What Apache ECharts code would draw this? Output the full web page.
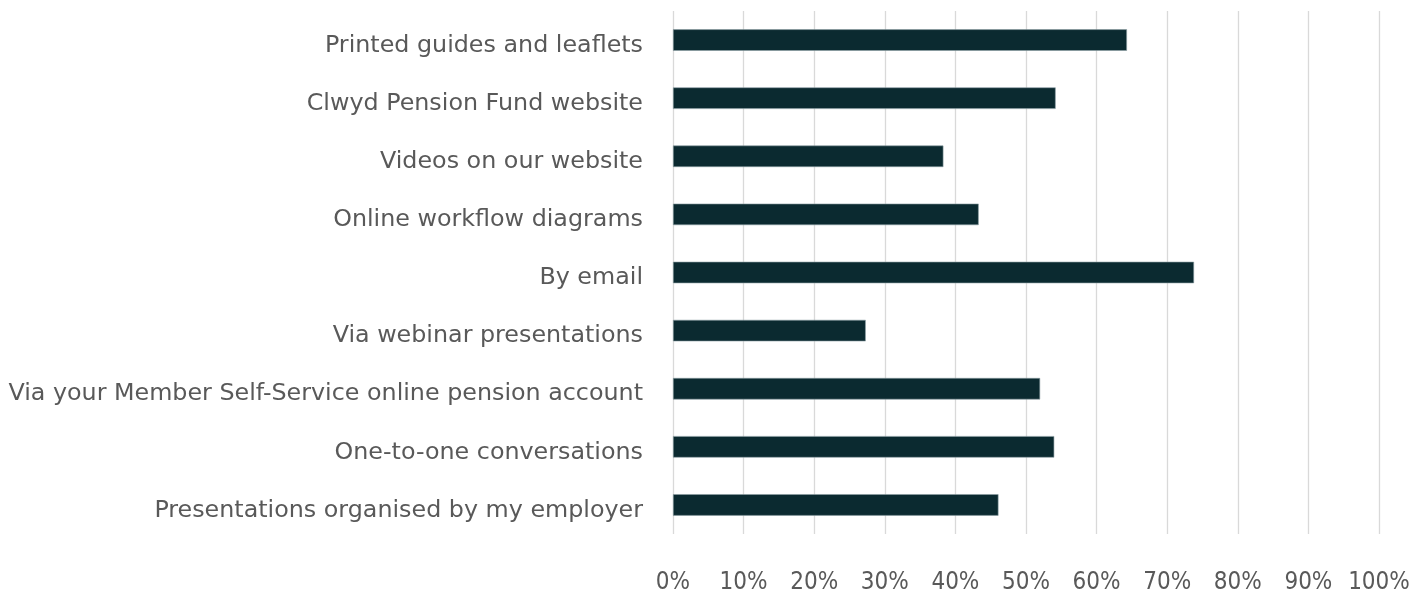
<!DOCTYPE html>
<html>
<head>
<meta charset="utf-8">
<script src="https://cdn.jsdelivr.net/npm/echarts@6/dist/echarts.min.js"></script>
<style>
html,body{margin:0;padding:0;background:#fff;}
#chart{width:1415px;height:595px;}
</style>
</head>
<body>
<div id="chart"></div>
<script>
const categories = [
  "Printed guides and leaflets",
  "Clwyd Pension Fund website",
  "Videos on our website",
  "Online workflow diagrams",
  "By email",
  "Via webinar presentations",
  "Via your Member Self-Service online pension account",
  "One-to-one conversations",
  "Presentations organised by my employer"
];
const values = [64.3, 54.2, 38.3, 43.3, 73.8, 27.3, 52.0, 54.0, 46.1];
const tickLabels = ["0%","10%","20%","30%","40%","50%","60%","70%","80%","90%","100%"];

const TICK_FONT = '"DejaVu Sans Condensed", "DejaVu Sans", sans-serif';
const CAT_FONT = '"DejaVu Sans", sans-serif';
const chart = echarts.init(document.getElementById('chart'), null, {renderer: 'canvas'});
chart.setOption({
  animation: false,
  backgroundColor: '#ffffff',
  grid: {left: 673, right: 36, top: 11, bottom: 58, containLabel: false},
  xAxis: {
    type: 'value', min: 0, max: 100, interval: 10,
    axisLine: {show: false},
    axisTick: {show: false},
    splitLine: {show: true, lineStyle: {color: '#d9d9d9', width: 1.3}},
    axisLabel: {
      margin: 37,
      color: '#595959', fontFamily: TICK_FONT, fontSize: 24,
      formatter: function (v) { return tickLabels[Math.round(v / 10)]; }
    }
  },
  yAxis: {
    type: 'category', data: categories, inverse: true,
    axisLine: {show: false},
    axisTick: {show: false},
    axisLabel: {
      margin: 30,
      formatter: function (v) { return '{c|' + v + '}'; },
      rich: {
        c: {color: '#595959', fontFamily: CAT_FONT, fontSize: 23.8, padding: [11, 0, 0, 0]}
      }
    }
  },
  series: [{
    type: 'bar', data: values, barWidth: '37%',
    itemStyle: {color: '#0b2a30', borderColor: '#8c9ea2', borderWidth: 0.6},
    silent: true
  }]
});
</script>
</body>
</html>
